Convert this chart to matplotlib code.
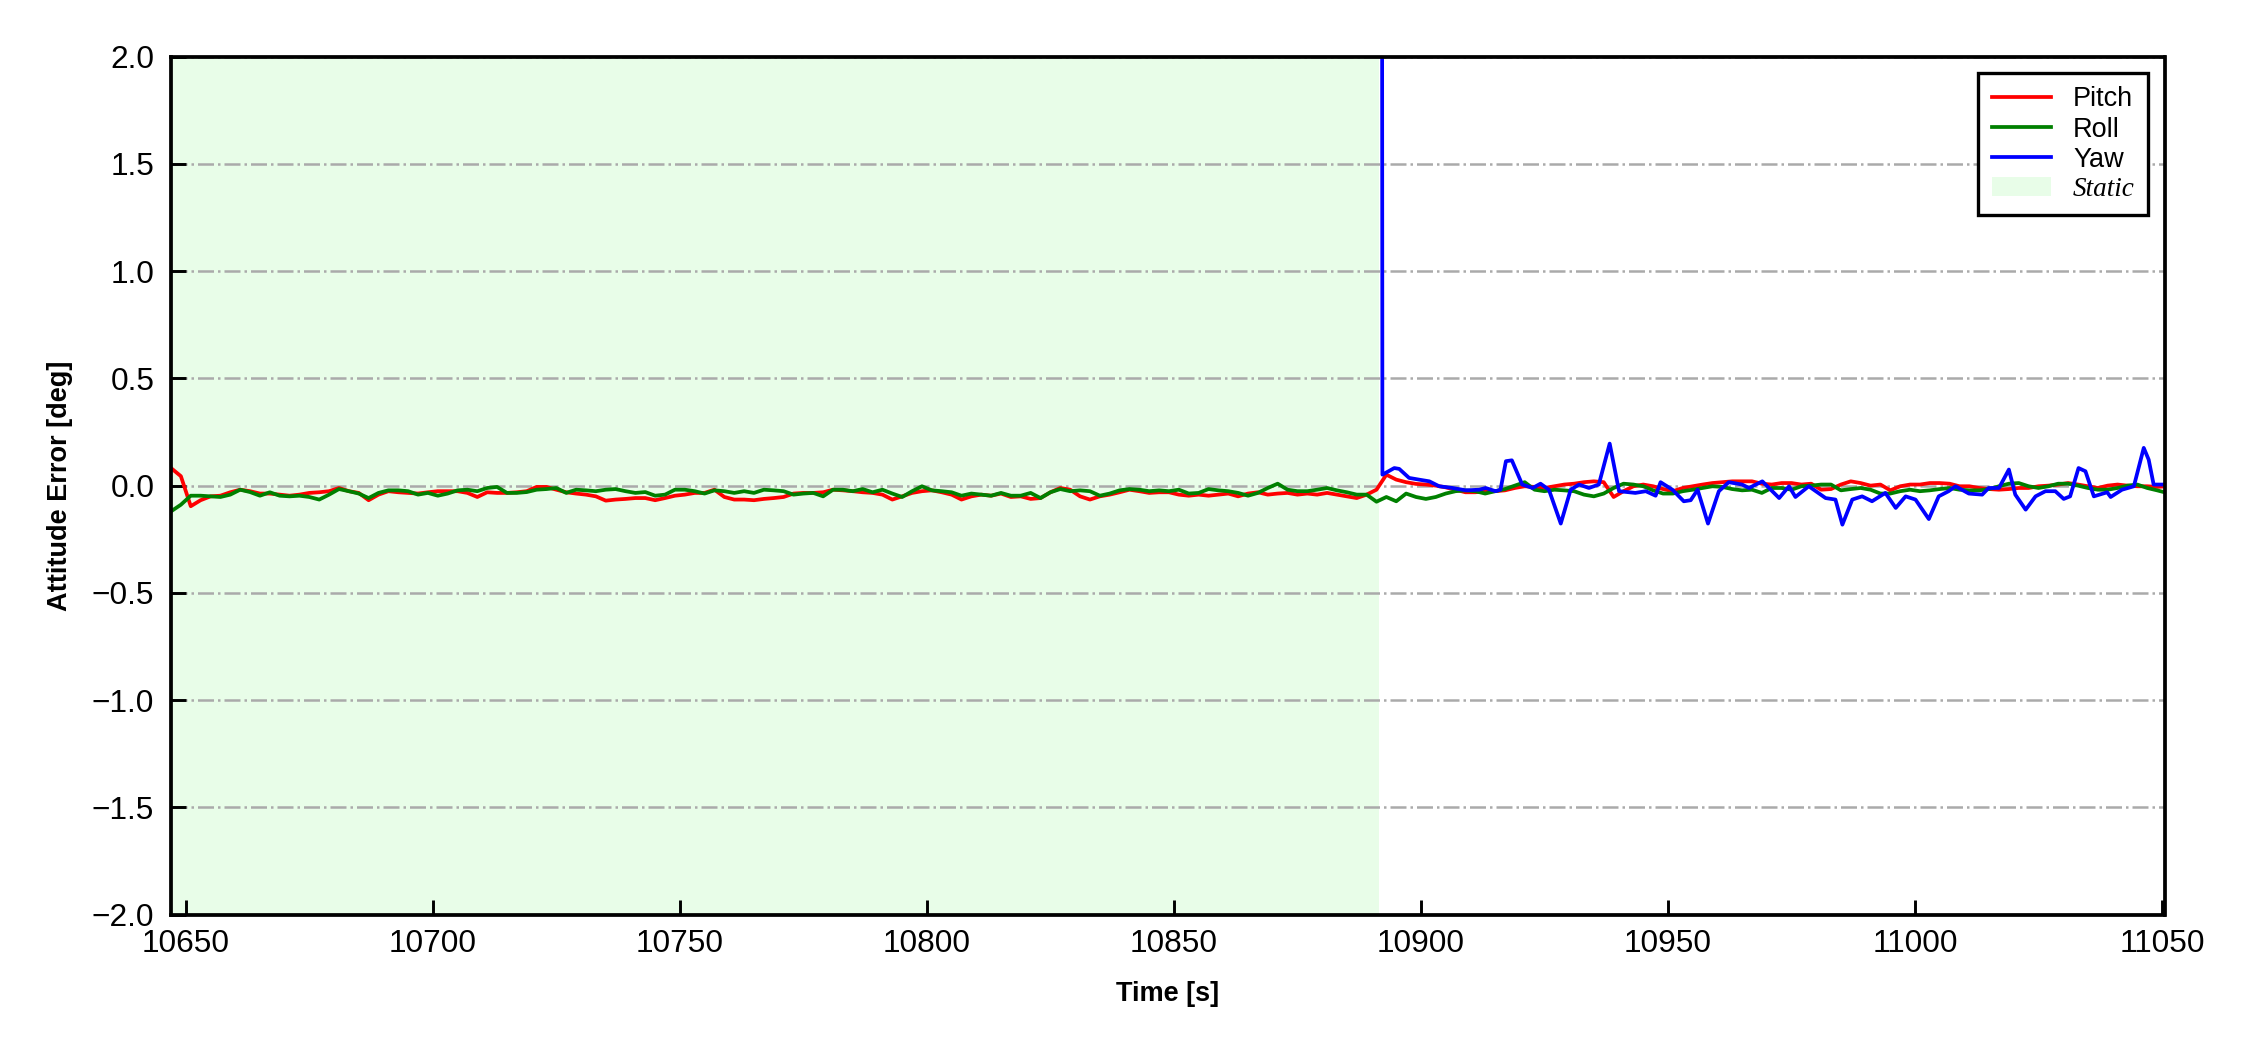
import matplotlib.pyplot as plt
import numpy as np

plt.rcParams['font.family'] = ['Liberation Sans', 'DejaVu Sans']

# sample times for pitch / roll (2 s step)
t_start = 10647
t_step = 2

pitch = [
    0.082, 0.044, -0.096, -0.068, -0.050, -0.047, -0.031, -0.019, -0.026, -0.037,
    -0.037, -0.042, -0.047, -0.042, -0.034, -0.031, -0.026, -0.011, -0.026, -0.034,
    -0.068, -0.042, -0.026, -0.031, -0.034, -0.037, -0.031, -0.026, -0.026, -0.026,
    -0.034, -0.053, -0.031, -0.034, -0.034, -0.031, -0.026, -0.006, -0.006, -0.019,
    -0.031, -0.037, -0.042, -0.050, -0.070, -0.065, -0.062, -0.058, -0.058, -0.068,
    -0.058, -0.047, -0.042, -0.034, -0.034, -0.019, -0.053, -0.065, -0.065, -0.068,
    -0.062, -0.058, -0.053, -0.037, -0.034, -0.034, -0.031, -0.019, -0.022, -0.026,
    -0.031, -0.034, -0.042, -0.065, -0.050, -0.034, -0.026, -0.022, -0.031, -0.042,
    -0.065, -0.050, -0.042, -0.047, -0.037, -0.053, -0.050, -0.062, -0.058, -0.031,
    -0.011, -0.019, -0.050, -0.065, -0.050, -0.042, -0.031, -0.019, -0.026, -0.034,
    -0.031, -0.031, -0.042, -0.047, -0.042, -0.047, -0.042, -0.037, -0.050, -0.037,
    -0.031, -0.042, -0.037, -0.034, -0.042, -0.037, -0.042, -0.034, -0.042, -0.050,
    -0.058, -0.042, -0.019,
    # after the static phase
    0.051, 0.028, 0.016, 0.008, 0.005, 0.000, -0.008, -0.019, -0.031, -0.031,
    -0.026, -0.026, -0.022, -0.011, -0.003, -0.006, -0.011, -0.003, 0.005, 0.009,
    0.016, 0.020, 0.016, -0.053, -0.026, -0.003, 0.005, -0.003, -0.016, -0.026,
    -0.011, -0.003, 0.005, 0.012, 0.016, 0.020, 0.020, 0.020, 0.009, 0.005,
    0.012, 0.012, 0.005, 0.009, -0.019, -0.016, 0.005, 0.020, 0.012, 0.000,
    0.005, -0.022, -0.003, 0.005, 0.005, 0.012, 0.012, 0.009, -0.003, -0.003,
    -0.011, -0.016, -0.019, -0.016, -0.011, -0.011, -0.003, 0.000, 0.005, 0.012,
    0.005, -0.003, -0.011, 0.000, 0.005, 0.000, -0.003, -0.003, -0.006, -0.003,
]

roll = [
    -0.120, -0.089, -0.047, -0.047, -0.050, -0.053, -0.042, -0.019, -0.030, -0.047,
    -0.031, -0.047, -0.050, -0.047, -0.053, -0.065, -0.042, -0.016, -0.026, -0.037,
    -0.058, -0.034, -0.022, -0.022, -0.026, -0.042, -0.034, -0.047, -0.037, -0.022,
    -0.019, -0.026, -0.011, -0.006, -0.034, -0.034, -0.030, -0.019, -0.016, -0.011,
    -0.034, -0.019, -0.022, -0.026, -0.019, -0.016, -0.026, -0.034, -0.030, -0.047,
    -0.042, -0.019, -0.019, -0.026, -0.037, -0.022, -0.026, -0.034, -0.026, -0.034,
    -0.019, -0.022, -0.026, -0.042, -0.037, -0.034, -0.050, -0.019, -0.019, -0.026,
    -0.016, -0.031, -0.019, -0.037, -0.053, -0.026, -0.003, -0.022, -0.026, -0.031,
    -0.047, -0.037, -0.042, -0.047, -0.034, -0.047, -0.047, -0.034, -0.058, -0.031,
    -0.016, -0.026, -0.022, -0.026, -0.047, -0.037, -0.022, -0.016, -0.019, -0.026,
    -0.022, -0.026, -0.019, -0.037, -0.034, -0.016, -0.022, -0.026, -0.034, -0.047,
    -0.034, -0.011, 0.009, -0.019, -0.026, -0.026, -0.019, -0.011, -0.022, -0.031,
    -0.042, -0.042, -0.075,
    # after the static phase
    -0.053, -0.073, -0.037, -0.053, -0.062, -0.053, -0.037, -0.026, -0.022, -0.026,
    -0.037, -0.026, -0.016, 0.000, 0.016, -0.019, -0.026, -0.019, -0.022, -0.026,
    -0.042, -0.050, -0.037, -0.011, 0.009, 0.005, -0.003, -0.022, -0.037, -0.037,
    -0.026, -0.019, -0.011, -0.003, -0.006, -0.016, -0.022, -0.019, -0.034, -0.011,
    -0.011, -0.019, -0.003, 0.000, 0.005, 0.005, -0.022, -0.016, -0.011, -0.019,
    -0.037, -0.037, -0.026, -0.019, -0.026, -0.022, -0.016, -0.011, -0.019, -0.022,
    -0.022, -0.016, -0.003, 0.009, 0.012, -0.003, -0.011, -0.003, 0.009, 0.009,
    0.000, -0.011, -0.019, -0.019, -0.011, 0.000, 0.005, -0.011, -0.022, -0.034,
]

# yaw only after the static phase (first sample is far off scale)
yaw_t = [
    10891.9, 10892.2, 10894.6, 10895.6, 10897.6, 10899.6, 10901.7, 10903.7, 10906.4, 10909.1,
    10911.8, 10913.1, 10915.1, 10916.1, 10917.2, 10918.4, 10920.5, 10922.6, 10924.2, 10925.9,
    10928.3, 10930.3, 10932.0, 10934.0, 10936.0, 10938.2, 10940.1, 10943.4, 10945.5, 10947.5,
    10948.5, 10950.9, 10953.2, 10954.6, 10956.0, 10958.1, 10960.3, 10962.3, 10965.0, 10966.4,
    10969.1, 10972.5, 10974.5, 10975.8, 10978.5, 10981.9, 10983.9, 10985.3, 10987.3, 10989.3,
    10991.3, 10994.0, 10996.1, 10998.1, 11000.1, 11002.8, 11004.8, 11006.8, 11008.2, 11010.9,
    11013.6, 11014.9, 11017.0, 11019.0, 11020.3, 11022.4, 11024.4, 11026.4, 11028.4, 11030.1,
    11031.4, 11033.1, 11034.5, 11036.2, 11038.9, 11039.6, 11041.9, 11044.3, 11046.3, 11047.3,
    11048.3, 11050.5,
]
yaw = [
    10.0, 0.051, 0.082, 0.078, 0.036, 0.028, 0.020, -0.003, -0.011, -0.022,
    -0.019, -0.011, -0.026, -0.019, 0.114, 0.118, 0.005, -0.011, 0.009, -0.019,
    -0.177, -0.019, 0.005, -0.011, 0.005, 0.196, -0.026, -0.034, -0.026, -0.047,
    0.016, -0.019, -0.073, -0.068, -0.019, -0.177, -0.026, 0.016, 0.005, -0.011,
    0.020, -0.058, -0.003, -0.053, -0.003, -0.058, -0.065, -0.182, -0.065, -0.050,
    -0.073, -0.034, -0.104, -0.050, -0.065, -0.156, -0.050, -0.026, -0.003, -0.037,
    -0.042, -0.011, -0.011, 0.075, -0.042, -0.112, -0.050, -0.026, -0.026, -0.062,
    -0.050, 0.082, 0.067, -0.050, -0.031, -0.053, -0.019, -0.003, 0.176, 0.121,
    0.005, 0.005,
]

static_end = 10891.5

t = t_start + t_step * np.arange(len(pitch))

fig, ax = plt.subplots(figsize=(7.5, 3.5), dpi=300)
fig.subplots_adjust(left=0.076, right=0.962, bottom=0.129, top=0.946)

ax.plot(t, pitch, color='red', lw=0.9, label='Pitch')
ax.plot(t, roll, color='green', lw=0.9, label='Roll')
ax.plot(yaw_t, yaw, color='blue', lw=0.9, label='Yaw')
ax.axvspan(t_start - 5, static_end, color='#e8fde8', lw=0, label='Static', zorder=0)

ax.set_xlim(10647, 11050.5)
ax.set_ylim(-2.0, 2.0)
ax.set_xticks(np.arange(10650, 11051, 50))
ax.set_yticks(np.arange(-2.0, 2.01, 0.5))
ax.yaxis.grid(True, linestyle='-.', color='#aaaaaa', lw=0.6)

ax.tick_params(direction='in', length=3.5, width=0.7, labelsize=7.6)
ax.tick_params(axis='x', pad=3.5)
ax.tick_params(axis='y', pad=4)
for s in ax.spines.values():
    s.set_linewidth(0.9)

ax.set_xlabel('Time [s]', fontsize=6.5, fontweight='bold', labelpad=5.3)
ax.set_ylabel('Attitude Error [deg]', fontsize=6.5, fontweight='bold', labelpad=4.5)

leg = ax.legend(loc='upper right', fontsize=6.5, fancybox=False, framealpha=1,
                edgecolor='black', handlelength=2.2, borderpad=0.5, labelspacing=0.15,
                borderaxespad=0.6)
leg.get_frame().set_linewidth(0.8)
leg.get_texts()[3].set_family(['Liberation Serif', 'DejaVu Serif'])
leg.get_texts()[3].set_style('italic')

fig.savefig('out.png', dpi=300)
